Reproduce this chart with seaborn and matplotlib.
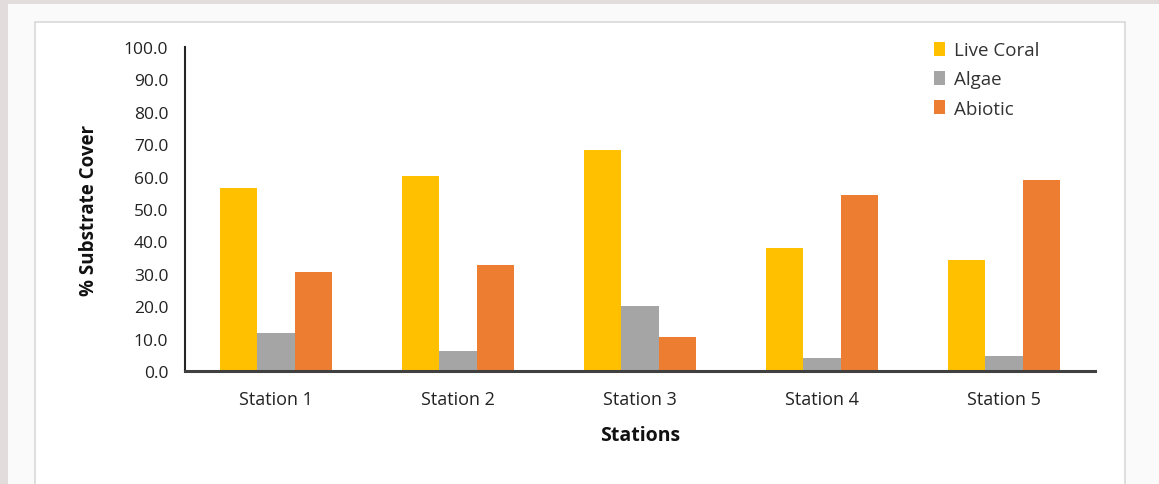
import matplotlib
matplotlib.use("Agg")
import matplotlib.pyplot as plt
from matplotlib.patches import Rectangle
import seaborn as sns
import pandas as pd

stations = ["Station 1", "Station 2", "Station 3", "Station 4", "Station 5"]
live_coral = [56.4, 60.1, 68.2, 38.1, 34.2]
algae = [11.6, 6.3, 20.2, 4.0, 4.5]
abiotic = [30.5, 32.7, 10.4, 54.2, 59.0]
series_names = ["Live Coral", "Algae", "Abiotic"]
colors = ["#FFC000", "#A5A5A5", "#ED7D31"]
yticks = [0, 10, 20, 30, 40, 50, 60, 70, 80, 90, 100]

rows = []
for name, vals in zip(series_names, [live_coral, algae, abiotic]):
    for s, v in zip(stations, vals):
        rows.append({"Station": s, "Series": name, "Value": v})
df = pd.DataFrame(rows)

sns.set_theme(style="white")
plt.rcParams["font.family"] = ["Open Sans", "DejaVu Sans"]

W, H = 1159, 485
fig = plt.figure(figsize=(W / 100, H / 100), dpi=100)
fig.patch.set_facecolor("#e2dcdc")
fig.add_artist(Rectangle((8 / W, 0), 1 - 8 / W, 1 - 5 / H, transform=fig.transFigure,
                         facecolor="#fbfafa", edgecolor="none", zorder=0))
fig.add_artist(Rectangle((35 / W, -0.01), (1125 - 35) / W, 1 - 23 / H + 0.01, transform=fig.transFigure,
                         facecolor="white", edgecolor="#d9d9d9", linewidth=1.2, zorder=0))

ax = fig.add_axes([185 / W, 1 - 372 / H, (1095 - 185) / W, (372 - 48) / H])
ax.set_facecolor("none")

sns.barplot(data=df, x="Station", y="Value", hue="Series", order=stations,
            hue_order=series_names, palette=colors, width=0.62, saturation=1,
            errorbar=None, linewidth=0, ax=ax)

ax.set_xlim(-0.5, 4.5)
ax.set_ylim(0, 100)
ax.set_yticks(yticks)
ax.set_yticklabels([f"{t:.1f}" for t in yticks], fontsize=12.5, color="#222222")
ax.tick_params(axis="x", labelsize=13, colors="#222222", length=0, pad=14)
ax.tick_params(axis="y", length=0, pad=12)
for lab in ax.get_xticklabels():
    lab.set_color("#222222")

for s in ["top", "right"]:
    ax.spines[s].set_visible(False)
ax.spines["left"].set_color("#262626")
ax.spines["left"].set_linewidth(1.5)
ax.spines["bottom"].set_color("#404040")
ax.spines["bottom"].set_linewidth(2.2)

ax.set_xlabel("Stations", fontsize=14, fontweight="bold", labelpad=12, color="#111111")
ax.set_ylabel("% Substrate Cover", fontsize=13.5, fontweight="bold", labelpad=18, color="#111111")

leg = ax.legend(loc="upper left", bbox_to_anchor=(0.8045, 1.07), frameon=False,
                fontsize=13.5, handlelength=0.6, handleheight=0.75, handletextpad=0.45,
                labelspacing=0.6)
for t in leg.get_texts():
    t.set_color("#333333")

fig.savefig("out.png", dpi=100)
